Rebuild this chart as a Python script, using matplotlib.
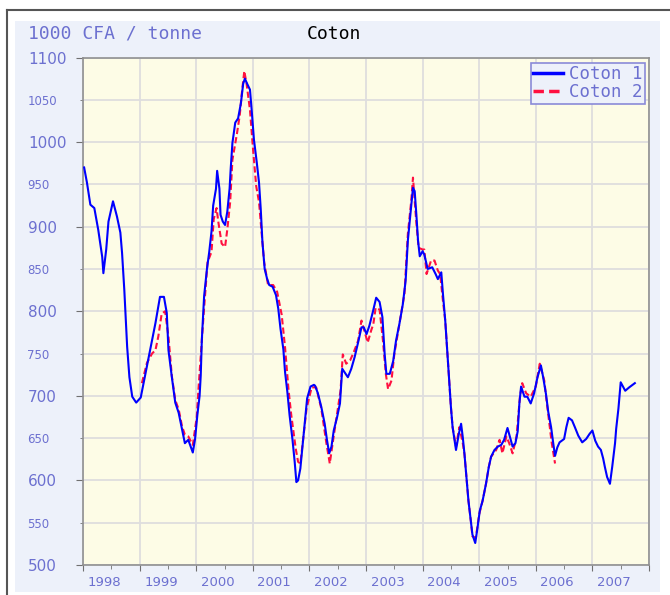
import matplotlib
matplotlib.use("Agg")
import matplotlib.pyplot as plt
import matplotlib.transforms as mtransforms
from matplotlib.patches import Rectangle
from matplotlib.lines import Line2D
import numpy as np

# dates as decimal years, prices in 1000 CFA / tonne
t1 = [1998.02, 1998.07, 1998.13, 1998.20, 1998.27, 1998.34, 1998.36, 1998.41, 1998.45, 1998.53,
      1998.60, 1998.66, 1998.69, 1998.73, 1998.78, 1998.82, 1998.87, 1998.94, 1999.02, 1999.07,
      1999.16, 1999.22, 1999.28, 1999.36, 1999.43, 1999.48, 1999.51, 1999.57, 1999.63, 1999.69,
      1999.75, 1999.80, 1999.86, 1999.94, 1999.98, 2000.02, 2000.06, 2000.08, 2000.10, 2000.14,
      2000.19, 2000.23, 2000.27, 2000.30, 2000.35, 2000.37, 2000.41, 2000.43, 2000.47, 2000.51,
      2000.55, 2000.59, 2000.61, 2000.64, 2000.69, 2000.74, 2000.79, 2000.83, 2000.86, 2000.90,
      2000.95, 2000.98, 2001.02, 2001.07, 2001.11, 2001.14, 2001.17, 2001.21, 2001.25, 2001.29,
      2001.35, 2001.41, 2001.45, 2001.49, 2001.54, 2001.57, 2001.61, 2001.65, 2001.70, 2001.74,
      2001.77, 2001.80, 2001.84, 2001.89, 2001.92, 2001.96, 2002.02, 2002.08, 2002.10, 2002.15,
      2002.21, 2002.27, 2002.31, 2002.35, 2002.39, 2002.43, 2002.49, 2002.54, 2002.58, 2002.62,
      2002.68, 2002.74, 2002.80, 2002.86, 2002.92, 2002.96, 2003.01, 2003.06, 2003.12, 2003.18,
      2003.24, 2003.29, 2003.33, 2003.36, 2003.42, 2003.48, 2003.53, 2003.59, 2003.65, 2003.70,
      2003.74, 2003.79, 2003.83, 2003.86, 2003.89, 2003.92, 2003.95, 2004.00, 2004.03, 2004.09,
      2004.17, 2004.23, 2004.27, 2004.33, 2004.36, 2004.40, 2004.44, 2004.47, 2004.50, 2004.53,
      2004.59, 2004.64, 2004.68, 2004.71, 2004.74, 2004.78, 2004.81, 2004.86, 2004.88, 2004.93,
      2004.97, 2005.01, 2005.06, 2005.12, 2005.17, 2005.21, 2005.27, 2005.33, 2005.39, 2005.44,
      2005.50, 2005.54, 2005.59, 2005.64, 2005.68, 2005.71, 2005.74, 2005.80, 2005.85, 2005.91,
      2005.97, 2006.03, 2006.09, 2006.13, 2006.18, 2006.22, 2006.27, 2006.31, 2006.34, 2006.38,
      2006.42, 2006.50, 2006.54, 2006.58, 2006.64, 2006.69, 2006.75, 2006.82, 2006.89, 2006.95,
      2007.00, 2007.05, 2007.10, 2007.15, 2007.19, 2007.22, 2007.26, 2007.31, 2007.35, 2007.40,
      2007.42, 2007.46, 2007.50, 2007.58, 2007.65, 2007.75]
coton1 = [970, 952, 926, 922, 896, 864, 845, 873, 906, 930,
          912, 893, 869, 825, 758, 722, 699, 692, 698, 715,
          745, 766, 786, 817, 817, 798, 754, 722, 692, 680,
          660, 644, 648, 633, 649, 677, 700, 724, 767, 818,
          850, 870, 894, 925, 945, 966, 945, 914, 906, 902,
          918, 945, 969, 999, 1023, 1028, 1046, 1069, 1075, 1069,
          1062, 1038, 1003, 976, 952, 921, 882, 850, 839, 831,
          829, 819, 803, 779, 755, 728, 705, 677, 649, 622,
          598, 600, 614, 649, 669, 697, 711, 713, 712, 703,
          687, 667, 648, 632, 640, 659, 675, 691, 732, 728,
          722, 732, 746, 763, 781, 781, 773, 783, 799, 816,
          811, 793, 749, 726, 726, 741, 765, 785, 808, 836,
          884, 918, 946, 942, 914, 883, 865, 871, 867, 850,
          852, 844, 838, 846, 820, 789, 749, 718, 687, 663,
          636, 655, 667, 651, 631, 600, 576, 548, 536, 526,
          544, 564, 576, 596, 616, 628, 636, 640, 642, 648,
          662, 652, 640, 644, 658, 691, 711, 699, 699, 691,
          703, 722, 736, 722, 702, 681, 663, 643, 629, 639,
          645, 649, 663, 674, 671, 663, 653, 645, 649, 655,
          659, 647, 640, 636, 626, 616, 604, 596, 616, 644,
          661, 685, 716, 706, 710, 715]

t2 = [1999.04, 1999.13, 1999.22, 1999.28, 1999.33, 1999.39, 1999.45, 1999.51, 1999.57, 1999.63,
      1999.69, 1999.75, 1999.80, 1999.86, 1999.94, 2000.01, 2000.04, 2000.13, 2000.20, 2000.27,
      2000.31, 2000.36, 2000.39, 2000.45, 2000.51, 2000.55, 2000.60, 2000.64, 2000.72, 2000.77,
      2000.80, 2000.85, 2000.89, 2000.95, 2001.00, 2001.06, 2001.11, 2001.16, 2001.20, 2001.27,
      2001.36, 2001.43, 2001.51, 2001.57, 2001.63, 2001.68, 2001.76, 2001.80, 2001.84, 2001.89,
      2001.95, 2002.04, 2002.12, 2002.21, 2002.30, 2002.36, 2002.42, 2002.49, 2002.55, 2002.59,
      2002.65, 2002.72, 2002.78, 2002.86, 2002.92, 2002.98, 2003.03, 2003.09, 2003.13, 2003.17,
      2003.24, 2003.30, 2003.35, 2003.39, 2003.45, 2003.50, 2003.56, 2003.62, 2003.68, 2003.74,
      2003.80, 2003.83, 2003.89, 2003.93, 2004.00, 2004.03, 2004.07, 2004.15, 2004.21, 2004.27,
      2004.31, 2004.36, 2004.40, 2004.44, 2004.47, 2004.50, 2004.53, 2004.59, 2004.65, 2004.71,
      2004.74, 2004.78, 2004.81, 2004.86, 2004.88, 2004.94, 2005.00, 2005.06, 2005.12, 2005.17,
      2005.21, 2005.30, 2005.36, 2005.41, 2005.48, 2005.53, 2005.59, 2005.66, 2005.72, 2005.76,
      2005.83, 2005.91, 2006.00, 2006.07, 2006.15, 2006.18, 2006.23, 2006.28, 2006.34]
coton2 = [715, 739, 750, 754, 770, 797, 800, 770, 723, 695,
          684, 664, 654, 652, 642, 675, 708, 795, 858, 870,
          909, 922, 906, 880, 876, 897, 929, 979, 1010, 1032,
          1054, 1084, 1069, 1038, 995, 948, 929, 890, 858, 831,
          831, 823, 796, 757, 708, 677, 637, 622, 620, 649,
          685, 710, 710, 685, 644, 620, 648, 679, 706, 749,
          738, 742, 751, 765, 789, 775, 763, 777, 785, 804,
          802, 765, 726, 708, 718, 749, 773, 797, 821, 892,
          931, 958, 904, 875, 873, 873, 844, 860, 860, 848,
          844, 812, 789, 749, 718, 687, 663, 640, 663, 644,
          631, 600, 576, 548, 534, 532, 560, 576, 596, 616,
          628, 636, 648, 632, 652, 644, 632, 652, 699, 715,
          703, 699, 711, 738, 718, 700, 672, 645, 620]

years = list(range(1998, 2009))
year_labels = [str(y) for y in range(1998, 2008)] + [""]
y_major = list(range(500, 1101, 100))
y_minor = list(range(550, 1100, 100))

txt_col = "#6c70d0"
panel_col = "#edf1fa"

fig = plt.figure(figsize=(6.7, 5.95), dpi=100)
fig.patch.set_facecolor("white")

# light blue panel + dark frame on top/left
fig.patches.append(Rectangle((15 / 670, 3 / 595), 645 / 670, 571 / 595,
                             transform=fig.transFigure, facecolor=panel_col,
                             edgecolor="none", zorder=-10))
fig.lines.append(Line2D([7 / 670, 7 / 670], [0, 585 / 595], transform=fig.transFigure,
                        color="#555555", lw=1.5, zorder=-5))
fig.lines.append(Line2D([7 / 670, 1], [585 / 595, 585 / 595], transform=fig.transFigure,
                        color="#555555", lw=1.5, zorder=-5))

ax = fig.add_axes([83 / 670, 30 / 595, 566 / 670, 507.5 / 595])
ax.set_zorder(1)
ax.set_facecolor("#fdfce6")

ax.plot(t2, coton2, color="#ff1040", lw=1.5, dashes=(3, 1.5), label="Coton 2", zorder=3)
ax.plot(t1, coton1, color="#0000ff", lw=1.5, label="Coton 1", zorder=4)

ax.set_xlim(1998, 2008)
ax.set_ylim(500, 1100)

ax.set_xticks(years)
ax.set_xticklabels(year_labels)
ax.set_xticks(np.arange(1998.5, 2008, 1.0), minor=True)
ax.set_yticks(y_major)
ax.set_yticklabels([str(v) for v in y_major])
ax.set_yticks(y_minor, minor=True)
ax.set_yticklabels([str(v) for v in y_minor], minor=True)

ax.tick_params(axis="x", which="major", length=4, color="#707070", labelsize=9.5,
               labelcolor=txt_col, pad=4)
ax.tick_params(axis="x", which="minor", length=3, color="#707070")
ax.tick_params(axis="y", which="major", length=5, color="#707070", labelsize=11,
               labelcolor=txt_col, pad=34.5)
ax.tick_params(axis="y", which="minor", length=2.5, color="#707070", labelsize=8.5,
               labelcolor=txt_col, pad=37.5)
for lab in ax.get_yticklabels() + ax.get_yticklabels(minor=True):
    lab.set_horizontalalignment("left")

# year labels sit inside each year, not on the tick
shift = mtransforms.ScaledTranslation(0.215, 0, fig.dpi_scale_trans)
for lab in ax.get_xticklabels():
    lab.set_transform(lab.get_transform() + shift)

ax.xaxis.grid(True, which="major", color="#dedede", lw=1.3)
ax.yaxis.grid(True, which="both", color="#dedede", lw=1.3)
ax.set_axisbelow(True)
for s in ax.spines.values():
    s.set_color("#909090")
    s.set_linewidth(1.2)

fig.text(28 / 670, 1 - 34 / 595, "1000 CFA / tonne", family="DejaVu Sans Mono",
         fontsize=13, color=txt_col, va="center", ha="left")
fig.text(307 / 670, 1 - 34 / 595, "Coton", family="DejaVu Sans Mono",
         fontsize=13, color="black", va="center", ha="left")

h, l = ax.get_legend_handles_labels()
leg = ax.legend(h[::-1], l[::-1], loc="upper right", bbox_to_anchor=(0.993, 0.99),
                borderaxespad=0, fancybox=False, framealpha=1, facecolor=panel_col,
                edgecolor="#8a8ad8", handlelength=1.7, handletextpad=0.35,
                labelspacing=0.0, borderpad=0.15, prop={"family": "DejaVu Sans Mono", "size": 12.5})
leg.get_frame().set_linewidth(1.2)
for t in leg.get_texts():
    t.set_color(txt_col)
for ln in leg.get_lines():
    ln.set_linewidth(2.5)

fig.savefig("out.png", dpi=100)
